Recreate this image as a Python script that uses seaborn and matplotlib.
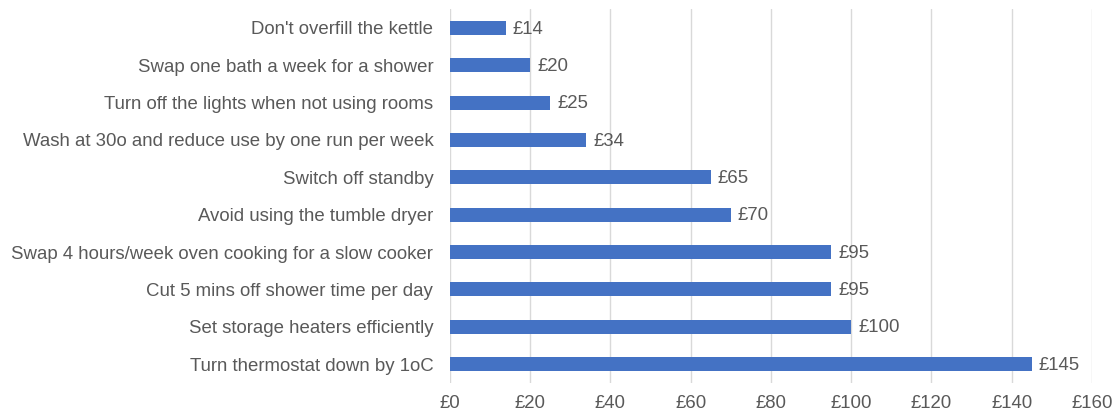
import matplotlib
matplotlib.use("Agg")
import matplotlib.pyplot as plt
import seaborn as sns
import pandas as pd

categories = [
    "Don't overfill the kettle",
    "Swap one bath a week for a shower",
    "Turn off the lights when not using rooms",
    "Wash at 30o and reduce use by one run per week",
    "Switch off standby",
    "Avoid using the tumble dryer",
    "Swap 4 hours/week oven cooking for a slow cooker",
    "Cut 5 mins off shower time per day",
    "Set storage heaters efficiently",
    "Turn thermostat down by 1oC",
]
savings = [14, 20, 25, 34, 65, 70, 95, 95, 100, 145]
xticks = [0, 20, 40, 60, 80, 100, 120, 140, 160]

sns.set_theme(style="white")
plt.rcParams['font.family'] = ['Liberation Sans', 'DejaVu Sans']
txt = "#595959"
fs = 13.4

df = pd.DataFrame({"cat": categories, "val": savings})
fig = plt.figure(figsize=(11.16, 4.15), dpi=100)
ax = fig.add_axes([0.4032, 0.0778, 0.9785 - 0.4032, 0.9776 - 0.0778])
sns.barplot(data=df, y="cat", x="val", color="#4472C4", saturation=1, width=0.38,
            linewidth=0, ax=ax, zorder=3)
ax.set_xlim(0, 160)
ax.set_ylim(len(categories) - 0.5, -0.5)
ax.set_xticks(xticks)
ax.set_xticklabels([f"£{v}" for v in xticks])
ax.grid(axis="x", color="#D9D9D9", linewidth=1, zorder=0)
for s in ax.spines.values():
    s.set_visible(False)
ax.set_xlabel("")
ax.set_ylabel("")
ax.tick_params(axis="both", length=0, labelsize=fs, colors=txt)
ax.tick_params(axis="y", pad=12)
ax.tick_params(axis="x", pad=9)
for i, v in enumerate(savings):
    ax.text(v + 1.7, i + 0.03, f"£{v}", va="center", ha="left", fontsize=fs, color=txt)
fig.savefig("out.png", dpi=100)
